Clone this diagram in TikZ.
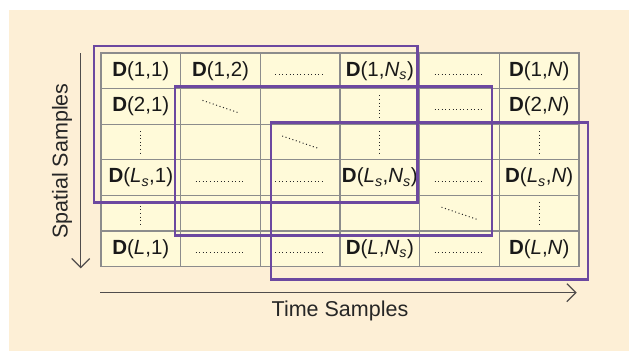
\documentclass[tikz,border=0pt]{standalone}
\usepackage{fontspec}
\setmainfont{Liberation Sans}
\usetikzlibrary{arrows.meta,calc}
\definecolor{bgbeige}{RGB}{253,239,214}
\definecolor{cellfill}{RGB}{255,250,217}
\definecolor{gridgray}{RGB}{140,140,140}
\definecolor{boxpurple}{RGB}{108,72,160}
\definecolor{arrowgray}{RGB}{80,76,76}
\newcommand{\myD}{\textbf{D}}
\newcommand{\myLs}{\textit{L}\textsubscript{\textit{s}}}
\newcommand{\myNs}{\textit{N}\textsubscript{\textit{s}}}
\begin{document}
\begin{tikzpicture}[x=1pt,y=-1pt,
  cell/.style={draw=gridgray, fill=cellfill, line width=1.2pt, minimum width=79.67pt, minimum height=35.6pt, inner sep=0pt, outer sep=0pt},
  celltext/.style={font=\fontsize{20.5}{20.5}\selectfont, text=black!90, inner sep=0pt},
  dotline/.style={line width=1pt, dash pattern=on 1pt off 2.6pt, black!85},
  pbox/.style={draw=boxpurple, line width=2.6pt},
  axarrow/.style={arrowgray, line width=1.2pt, -{Straight Barb[length=9pt,width=18pt]}},
  axlabel/.style={font=\fontsize{21.5}{21.5}\selectfont, text=black!85, inner sep=0pt}]
\useasboundingbox (0,0) rectangle (633,351);
\fill[white] (0,0) rectangle (633,351);
\fill[bgbeige] (9,10) rectangle (629,351);
% cells
\foreach \r in {1,...,6}
  \foreach \c in {1,...,6}
    \node[cell] (c-\r-\c) at ({101+79.67*(\c-0.5)},{53+35.6*(\r-0.5)}) {};
% texts
\node[celltext] (t11) at (c-1-1) {\myD(1,1)};
\node[celltext] (t12) at (c-1-2) {\myD(1,2)};
\node[celltext] (t14) at (c-1-4) {\myD(1,\myNs)};
\node[celltext] (t16) at (c-1-6) {\myD(1,\textit{N})};
\node[celltext] (t21) at (c-2-1) {\myD(2,1)};
\node[celltext] (t26) at (c-2-6) {\myD(2,\textit{N})};
\node[celltext] (t41) at (c-4-1) {\myD(\myLs,1)};
\node[celltext] (t44) at (c-4-4) {\myD(\myLs,\myNs)};
\node[celltext] (t46) at (c-4-6) {\myD(\myLs,\textit{N})};
\node[celltext] (t61) at (c-6-1) {\myD(\textit{L},1)};
\node[celltext] (t64) at (c-6-4) {\myD(\textit{L},\myNs)};
\node[celltext] (t66) at (c-6-6) {\myD(\textit{L},\textit{N})};
% horizontal dots
\foreach \n in {c-1-3,c-1-5,c-2-5,c-4-2,c-4-3,c-4-5,c-6-2,c-6-3,c-6-5}
  \draw[dotline] ($(\n)+(-25,3.5)$) -- ($(\n)+(25,3.5)$);
% vertical dots
\foreach \n in {c-2-4,c-3-1,c-3-4,c-3-6,c-5-1,c-5-6}
  \draw[dotline] ($(\n)+(0,-11)$) -- ($(\n)+(0,12)$);
% diagonal dots
\foreach \n in {c-2-2,c-3-3,c-5-5}
  \draw[dotline] ($(\n)+(-18,-6)$) -- ($(\n)+(17,6)$);
% purple windows
\draw[pbox] (94,46) rectangle (417.7,202.7);
\draw[pbox] (175,86.7) rectangle (492,235.3);
\draw[pbox] (271,122.7) rectangle (588,279.3);
% axes
\coordinate (va) at (80.7,53);
\coordinate (vb) at (80.7,268.3);
\coordinate (ha) at (100,292.7);
\coordinate (hb) at (576.7,292.7);
\draw[axarrow] (va) -- (vb);
\draw[axarrow] (ha) -- (hb);
\node[axlabel] (time) at (340,311) {Time Samples};
\node[axlabel, rotate=90] (space) at (62,161) {Spatial Samples};
\end{tikzpicture}
\end{document}
